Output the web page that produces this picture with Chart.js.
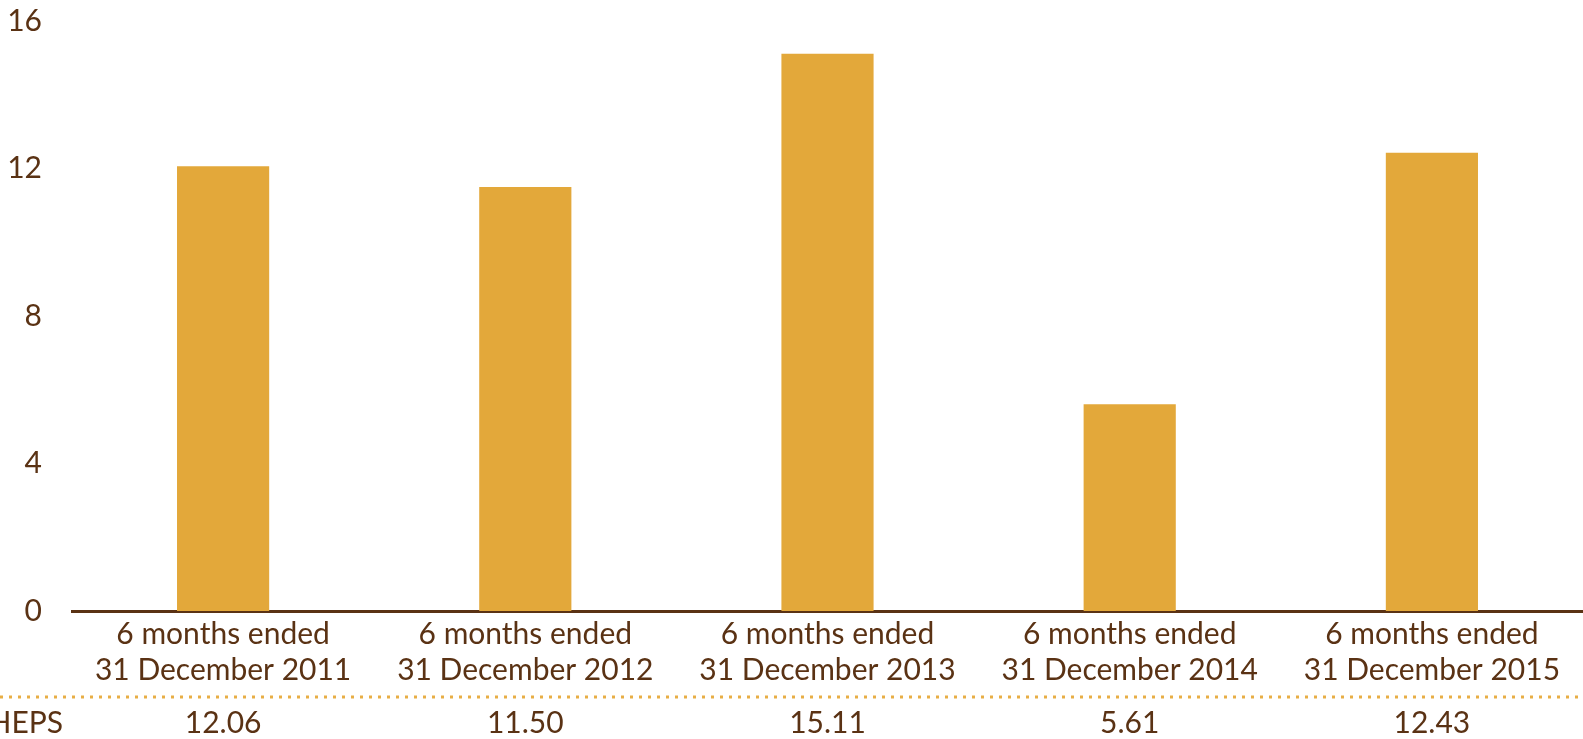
<!DOCTYPE html>
<html lang="en">
<head>
    <meta charset="UTF-8">
    <title>HEPS</title>
    <script src="https://cdn.jsdelivr.net/npm/chart.js"></script>
    <style>
        html, body { margin: 0; padding: 0; background: #FFFFFF; }
        .chart-wrap { width: 1583px; height: 739px; position: relative; }
    </style>
</head>
<body>
    <div class="chart-wrap">
        <canvas id="hepsChart"></canvas>
    </div>
    <script>
        // data
        const categories = [
            ['6 months ended', '31 December 2011'],
            ['6 months ended', '31 December 2012'],
            ['6 months ended', '31 December 2013'],
            ['6 months ended', '31 December 2014'],
            ['6 months ended', '31 December 2015']
        ];
        const hepsValues = [12.06, 11.50, 15.11, 5.61, 12.43];
        const hepsLabels = ['12.06', '11.50', '15.11', '5.61', '12.43'];
        const rowTitle = 'HEPS';
        const yTicks = [0, 4, 8, 12, 16];

        const textColor = '#5A3214';
        const barColor = '#E3A83A';
        const dotColor = '#E8AE45';
        const fontFamily = 'Lato, "Open Sans", sans-serif';

        // draws the dotted rule and the HEPS row under the axis
        const hepsRow = {
            id: 'hepsRow',
            afterDraw(chart) {
                const ctx = chart.ctx;
                const x = chart.scales.x;
                ctx.save();
                ctx.strokeStyle = dotColor;
                ctx.lineWidth = 3;
                ctx.setLineDash([3, 6]);
                ctx.beginPath();
                ctx.moveTo(0, 697);
                ctx.lineTo(chart.width, 697);
                ctx.stroke();
                ctx.setLineDash([]);

                ctx.fillStyle = textColor;
                ctx.font = '30px ' + fontFamily;
                ctx.textBaseline = 'middle';
                ctx.textAlign = 'right';
                ctx.fillText(rowTitle, 63, 723);
                ctx.textAlign = 'center';
                hepsLabels.forEach((t, i) => {
                    ctx.fillText(t, x.getPixelForValue(i), 723);
                });
                ctx.restore();
            }
        };

        new Chart(document.getElementById('hepsChart'), {
            type: 'bar',
            data: {
                labels: categories,
                datasets: [{
                    label: rowTitle,
                    data: hepsValues,
                    backgroundColor: barColor,
                    borderWidth: 0,
                    categoryPercentage: 1,
                    barPercentage: 0.305
                }]
            },
            options: {
                responsive: true,
                maintainAspectRatio: false,
                animation: false,
                layout: { padding: { top: 21, right: 0, left: 0, bottom: 0 } },
                plugins: {
                    legend: { display: false },
                    tooltip: { enabled: false }
                },
                scales: {
                    x: {
                        grid: { display: false, drawTicks: false },
                        border: { display: true, color: textColor, width: 3 },
                        ticks: {
                            color: textColor,
                            padding: 5,
                            maxRotation: 0,
                            autoSkip: false,
                            font: { family: fontFamily, size: 30, lineHeight: 1.2 }
                        },
                        afterFit(scale) { scale.height = 128; }
                    },
                    y: {
                        min: 0,
                        max: 16,
                        afterBuildTicks(scale) {
                            scale.ticks = yTicks.map(v => ({ value: v }));
                        },
                        grid: { display: false, drawTicks: false },
                        border: { display: false },
                        ticks: {
                            color: textColor,
                            padding: 30,
                            font: { family: fontFamily, size: 30 }
                        },
                        afterFit(scale) {
                            scale.width = 72;
                            scale.paddingTop = 0;
                            scale.paddingBottom = 0;
                        }
                    }
                }
            },
            plugins: [hepsRow]
        });
    </script>
</body>
</html>
